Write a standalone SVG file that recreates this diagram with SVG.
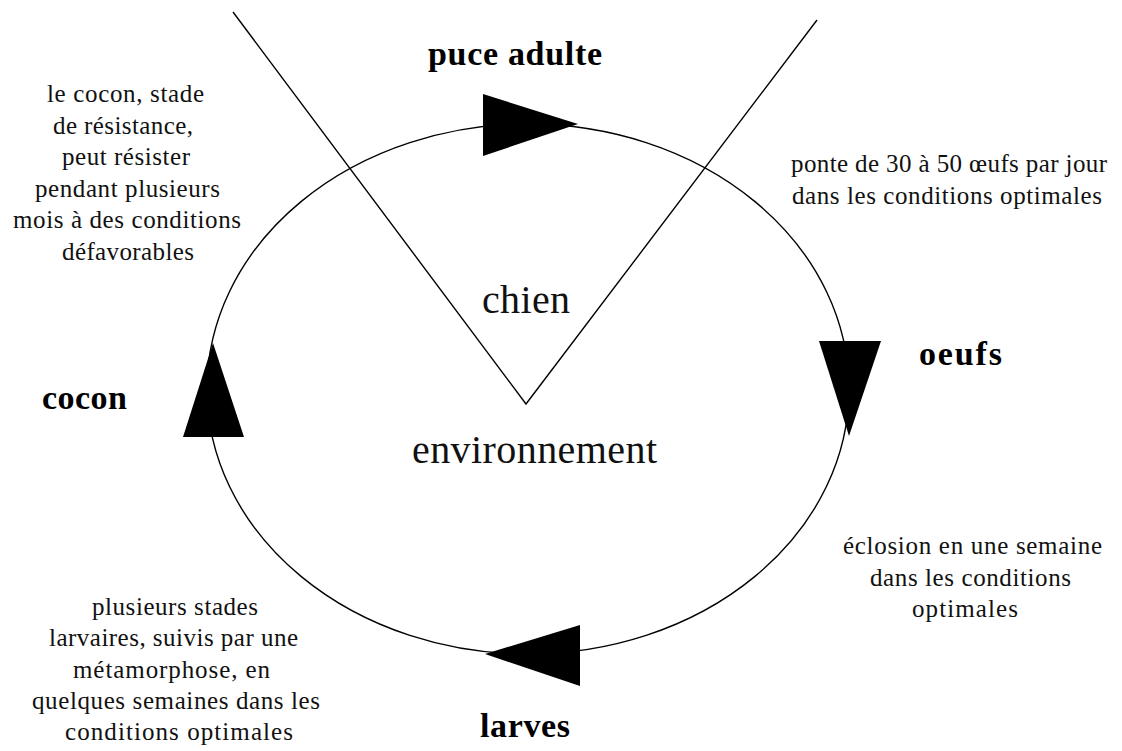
<svg xmlns="http://www.w3.org/2000/svg" width="1122" height="751" viewBox="0 0 1122 751">
<style>
.ln{fill:none;stroke:#000;stroke-width:1.4}
.arr{fill:#000;stroke:none}
.t{font-family:"Liberation Serif","Times New Roman",serif;font-size:25px;fill:#111}
.b{font-family:"Liberation Serif","Times New Roman",serif;font-size:34px;font-weight:bold;fill:#000}
.big{font-family:"Liberation Serif","Times New Roman",serif;font-size:40px;fill:#111}
</style>
<rect width="1122" height="751" fill="#fff"/>
<g id="connectors">
<ellipse class="ln" cx="528" cy="389" rx="321" ry="265"/>
<polyline class="ln" points="233,12 526,404 817,20"/>
<polygon class="arr" points="483,94 483,156 578,124"/>
<polygon class="arr" points="819,341 881,341 849,436"/>
<polygon class="arr" points="580,625 580,686 485,654"/>
<polygon class="arr" points="213,343 183,437 244,437"/>
</g>
<g id="chien"><text class="big" x="482" y="313" textLength="88" lengthAdjust="spacing">chien</text></g>
<g id="environnement"><text class="big" x="412" y="463" textLength="245" lengthAdjust="spacing">environnement</text></g>
<g id="puce-adulte"><text class="b" x="428" y="65" textLength="174" lengthAdjust="spacing">puce adulte</text></g>
<g id="oeufs"><text class="b" x="919" y="365" textLength="83" lengthAdjust="spacing">oeufs</text></g>
<g id="larves"><text class="b" x="480" y="737" textLength="90" lengthAdjust="spacing">larves</text></g>
<g id="cocon"><text class="b" x="42" y="409" textLength="85" lengthAdjust="spacing">cocon</text></g>
<g id="note-cocon">
<text class="t" x="47" y="102" textLength="157" lengthAdjust="spacing">le cocon, stade</text>
<text class="t" x="53" y="133.5" textLength="140" lengthAdjust="spacing">de résistance,</text>
<text class="t" x="62" y="165" textLength="128" lengthAdjust="spacing">peut résister</text>
<text class="t" x="35" y="196.5" textLength="185" lengthAdjust="spacing">pendant plusieurs</text>
<text class="t" x="13" y="228" textLength="228" lengthAdjust="spacing">mois à des conditions</text>
<text class="t" x="62" y="259.5" textLength="132" lengthAdjust="spacing">défavorables</text>
</g>
<g id="note-ponte">
<text class="t" x="791" y="172" textLength="316" lengthAdjust="spacing">ponte de 30 à 50 œufs par jour</text>
<text class="t" x="792" y="204" textLength="310" lengthAdjust="spacing">dans les conditions optimales</text>
</g>
<g id="note-eclosion">
<text class="t" x="843" y="554" textLength="259" lengthAdjust="spacing">éclosion en une semaine</text>
<text class="t" x="870" y="585.5" textLength="201" lengthAdjust="spacing">dans les conditions</text>
<text class="t" x="912" y="617" textLength="106" lengthAdjust="spacing">optimales</text>
</g>
<g id="note-larves">
<text class="t" x="92" y="615" textLength="166" lengthAdjust="spacing">plusieurs stades</text>
<text class="t" x="49" y="646" textLength="249" lengthAdjust="spacing">larvaires, suivis par une</text>
<text class="t" x="73" y="677.5" textLength="197" lengthAdjust="spacing">métamorphose, en</text>
<text class="t" x="32" y="709" textLength="288" lengthAdjust="spacing">quelques semaines dans les</text>
<text class="t" x="65" y="740" textLength="228" lengthAdjust="spacing">conditions optimales</text>
</g>
</svg>
